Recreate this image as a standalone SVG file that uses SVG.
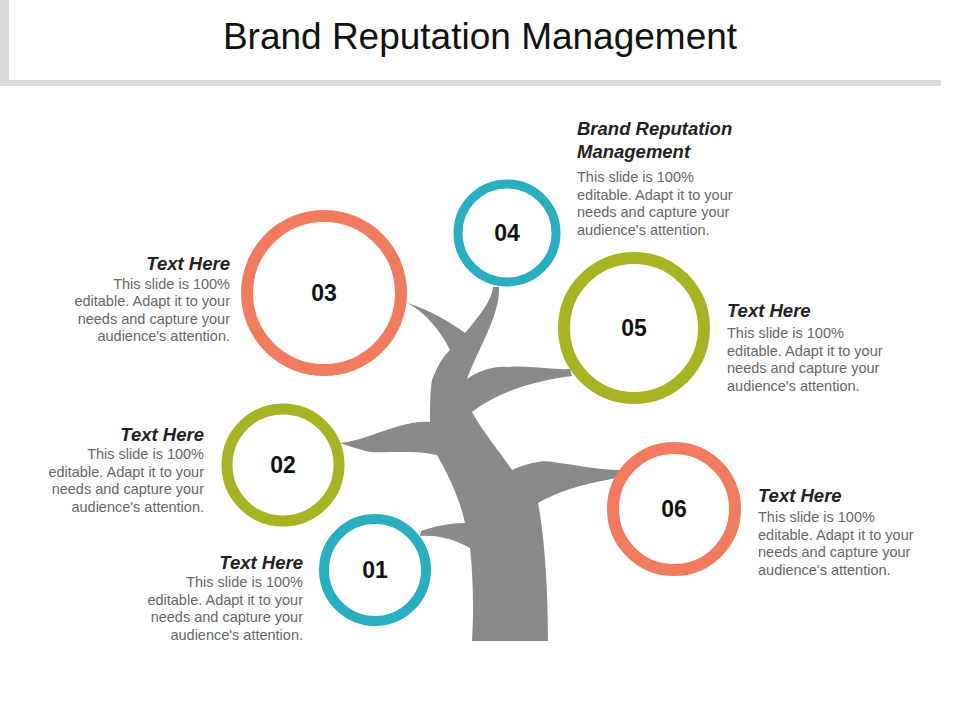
<svg xmlns="http://www.w3.org/2000/svg" width="960" height="720" viewBox="0 0 960 720">
<style>
.t{font-family:"Liberation Sans",Arial,sans-serif;font-size:18.5px;font-weight:bold;font-style:italic;fill:#222}
.b{font-family:"Liberation Sans",Arial,sans-serif;font-size:14.5px;fill:#666}
.n{font-family:"Liberation Sans",Arial,sans-serif;font-size:23px;font-weight:bold;fill:#111;text-anchor:middle}
.r{text-anchor:end}
.c{fill:#fff}
</style>
<rect width="960" height="720" fill="#fff"/>
<rect x="0" y="0" width="9" height="86" fill="#d9d9d9"/>
<rect x="0" y="80" width="941" height="6" fill="#d9d9d9"/>
<text x="480" y="49" text-anchor="middle" font-family="'Liberation Sans',Arial,sans-serif" font-size="37" fill="#111">Brand Reputation Management</text>
<g id="connectors">
<path fill="#8a8a8a" d="M472,641 C474,610 473,575 470,548 C455,540 440,535 420,536 L421,531 C435,526 450,523 465,523 C460,500 450,478 437,455 C415,450 390,453 370,452 C360,450 350,446 340,443 C370,440 400,420 430,422 C430,405 430,392 432,380 C440,360 445,355 450,350 C440,330 425,312 407,303 C430,310 450,322 465,333 C480,315 492,300 493,287 L499,287 C500,315 480,345 467,379 C480,370 495,366 507,367 C530,365 550,370 570,369 L572,376 C540,380 500,390 472,412 C485,435 500,452 512,470 C530,462 545,460 553,462 C575,465 600,470 620,470 L620,477 C600,482 570,485 538,503 C545,540 548,590 548,641 Z"/>
</g>
<g id="n03"><circle cx="324" cy="293" r="77" class="c" stroke="#f07b5e" stroke-width="12"/><text x="324" y="301" class="n">03</text>
<text x="230" y="270" class="t r">Text Here</text>
<text class="b r" x="230" y="289">This slide is 100%</text><text class="b r" x="230" y="306">editable. Adapt it to your</text><text class="b r" x="230" y="324">needs and capture your</text><text class="b r" x="230" y="341">audience's attention.</text></g>
<g id="n04"><circle cx="507" cy="233" r="49" class="c" stroke="#2aafc0" stroke-width="9"/><text x="507" y="241" class="n">04</text>
<text x="577" y="135" class="t">Brand Reputation</text><text x="577" y="158" class="t">Management</text>
<text class="b" x="577" y="182">This slide is 100%</text><text class="b" x="577" y="200">editable. Adapt it to your</text><text class="b" x="577" y="217">needs and capture your</text><text class="b" x="577" y="235">audience's attention.</text></g>
<g id="n05"><circle cx="634" cy="328" r="70" class="c" stroke="#a8b324" stroke-width="12"/><text x="634" y="336" class="n">05</text>
<text x="727" y="317" class="t">Text Here</text>
<text class="b" x="727" y="338">This slide is 100%</text><text class="b" x="727" y="356">editable. Adapt it to your</text><text class="b" x="727" y="373">needs and capture your</text><text class="b" x="727" y="391">audience's attention.</text></g>
<g id="n02"><circle cx="283" cy="465" r="56" class="c" stroke="#a8b324" stroke-width="11"/><text x="283" y="473" class="n">02</text>
<text x="204" y="441" class="t r">Text Here</text>
<text class="b r" x="204" y="459">This slide is 100%</text><text class="b r" x="204" y="477">editable. Adapt it to your</text><text class="b r" x="204" y="494">needs and capture your</text><text class="b r" x="204" y="512">audience's attention.</text></g>
<g id="n06"><circle cx="674" cy="509" r="61" class="c" stroke="#f07b5e" stroke-width="12"/><text x="674" y="517" class="n">06</text>
<text x="758" y="502" class="t">Text Here</text>
<text class="b" x="758" y="522">This slide is 100%</text><text class="b" x="758" y="540">editable. Adapt it to your</text><text class="b" x="758" y="557">needs and capture your</text><text class="b" x="758" y="575">audience's attention.</text></g>
<g id="n01"><circle cx="375" cy="570" r="51" class="c" stroke="#2aafc0" stroke-width="10"/><text x="375" y="578" class="n">01</text>
<text x="303" y="569" class="t r">Text Here</text>
<text class="b r" x="303" y="587">This slide is 100%</text><text class="b r" x="303" y="605">editable. Adapt it to your</text><text class="b r" x="303" y="622">needs and capture your</text><text class="b r" x="303" y="640">audience's attention.</text></g>
</svg>
